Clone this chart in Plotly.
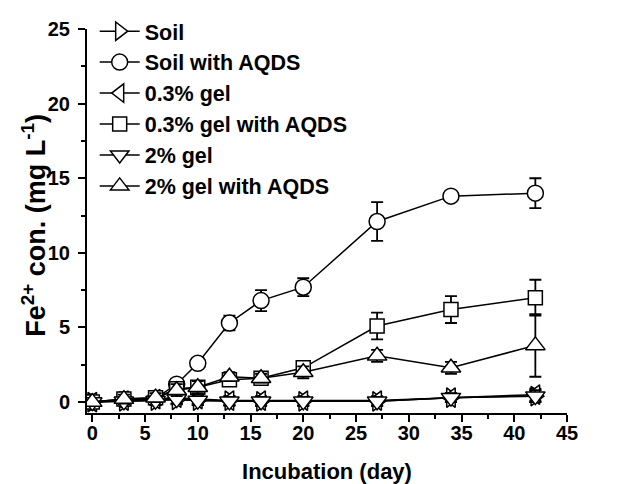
import plotly.graph_objects as go

days = [0, 3, 6, 8, 10, 13, 16, 20, 27, 34, 42]

soil = [0.0, 0.05, 0.1, 0.15, 0.1, 0.1, 0.05, 0.05, 0.05, 0.3, 0.4]
soil_err = [0.05, 0.2, 0.3, 0.3, 0.3, 0.3, 0.3, 0.3, 0.3, 0.3, 0.4]

soil_aqds = [0.0, 0.15, 0.25, 1.2, 2.6, 5.3, 6.8, 7.7, 12.1, 13.8, 14.0]
soil_aqds_err = [0.05, 0.1, 0.2, 0.3, 0.2, 0.5, 0.7, 0.6, 1.3, 0.2, 1.0]

gel03 = [0.0, 0.1, 0.2, 0.3, 0.2, 0.1, 0.1, 0.1, 0.1, 0.3, 0.5]
gel03_err = [0.05, 0.3, 0.3, 0.4, 0.3, 0.3, 0.3, 0.3, 0.3, 0.3, 0.4]

gel03_aqds = [0.0, 0.2, 0.3, 0.9, 1.0, 1.5, 1.6, 2.3, 5.1, 6.2, 7.0]
gel03_aqds_err = [0.05, 0.2, 0.3, 0.3, 0.2, 0.3, 0.4, 0.3, 0.9, 0.9, 1.2]

gel2 = [0.0, 0.05, 0.1, 0.2, 0.1, 0.05, 0.05, 0.05, 0.05, 0.3, 0.4]
gel2_err = [0.05, 0.2, 0.3, 0.3, 0.3, 0.3, 0.3, 0.3, 0.3, 0.3, 0.4]

gel2_aqds = [0.0, 0.2, 0.3, 0.8, 1.0, 1.7, 1.6, 2.0, 3.1, 2.3, 3.8]
gel2_aqds_err = [0.05, 0.3, 0.3, 0.4, 0.4, 0.3, 0.3, 0.4, 0.4, 0.4, 2.1]

series = [
    ("Soil", soil, soil_err, "triangle-right", 17),
    ("Soil with AQDS", soil_aqds, soil_aqds_err, "circle", 16),
    ("0.3% gel", gel03, gel03_err, "triangle-left", 17),
    ("0.3% gel with AQDS", gel03_aqds, gel03_aqds_err, "square", 14),
    ("2% gel", gel2, gel2_err, "triangle-down", 17),
    ("2% gel with AQDS", gel2_aqds, gel2_aqds_err, "triangle-up", 17),
]

FONT = "Arial, 'Liberation Sans', sans-serif"

fig = go.Figure()
for i, (name, vals, err, sym, sz) in enumerate(series):
    fig.add_trace(go.Scatter(
        x=days, y=vals, name=name, mode="lines+markers",
        line=dict(color="black", width=1.5),
        marker=dict(symbol=sym, size=sz, color="white",
                    line=dict(color="black", width=1.5)),
        error_y=dict(type="data", array=err, visible=True,
                     color="black", thickness=1.8, width=6),
    ))

fig.update_layout(
    width=620, height=484,
    margin=dict(l=87, r=53, t=28, b=71),
    paper_bgcolor="white", plot_bgcolor="white",
    font=dict(family=FONT, color="black", size=18, weight="bold"),
    showlegend=True,
    legend=dict(x=0.016, y=1.045, xanchor="left", yanchor="top",
                bgcolor="rgba(0,0,0,0)", borderwidth=0,
                font=dict(family=FONT, size=21.5, weight="bold"),
                tracegroupgap=0, itemwidth=40),
    annotations=[dict(
        text="Fe<sup>2+</sup> con. (mg L<sup>-1</sup>)",
        xref="paper", yref="paper", x=-0.112, y=0.488,
        xanchor="center", yanchor="middle", textangle=-90, showarrow=False,
        font=dict(family=FONT, size=27, weight="bold", color="black"),
    )],
)

fig.update_xaxes(
    range=[-0.5, 45], tickmode="linear", tick0=0, dtick=5,
    ticks="outside", ticklen=7, tickwidth=2, tickcolor="black",
    minor=dict(ticks="outside", ticklen=4, tickwidth=1.5, dtick=2.5, tick0=0, tickcolor="black"),
    showline=True, linecolor="black", linewidth=2,
    showgrid=False, zeroline=False, automargin=False,
    ticklabelstandoff=-6,
    tickfont=dict(family=FONT, size=20, weight="bold"),
    title=dict(text="Incubation (day)", font=dict(family=FONT, size=22, weight="bold"), standoff=25),
)
fig.update_yaxes(
    range=[-0.73, 25], tickmode="linear", tick0=0, dtick=5,
    ticks="outside", ticklen=7, tickwidth=2, tickcolor="black",
    minor=dict(ticks="outside", ticklen=4, tickwidth=1.5, dtick=2.5, tick0=0, tickcolor="black"),
    showline=True, linecolor="black", linewidth=2,
    showgrid=False, zeroline=False, automargin=False,
    ticklabelstandoff=4,
    tickfont=dict(family=FONT, size=20, weight="bold"),
)

fig.write_html("out.html")
